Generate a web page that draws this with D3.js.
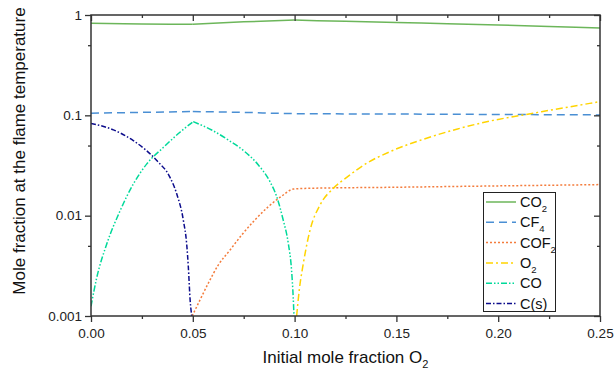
<!DOCTYPE html>
<html>
<head>
<meta charset="utf-8">
<script src="https://cdn.jsdelivr.net/npm/d3@7"></script>
<style>
  body { margin: 0; background: #fff; }
  svg { display: block; font-family: "Liberation Sans", Arial, sans-serif; }
</style>
</head>
<body>
<script>
// tick values
const xTicks = [0, 0.05, 0.10, 0.15, 0.20, 0.25];
const xMinorTicks = [0.025, 0.075, 0.125, 0.175, 0.225];
const yTicks = [0.001, 0.01, 0.1, 1];
const yMinorTicks = [0.005, 0.05, 0.5];
const yTickLabels = ['0.001', '0.01', '0.1', '1'];

// series
const co2X = [0, 0.025, 0.05, 0.075, 0.10, 0.125, 0.15, 0.175, 0.20, 0.225, 0.25];
const co2Y = [0.826, 0.815, 0.807, 0.855, 0.89, 0.865, 0.84, 0.82, 0.795, 0.768, 0.742];

const cf4X = [0, 0.025, 0.05, 0.075, 0.10, 0.15, 0.20, 0.25];
const cf4Y = [0.105, 0.107, 0.109, 0.107, 0.104, 0.103, 0.102, 0.101];

const cof2X = [0.0497, 0.0535, 0.0576, 0.0625, 0.0683, 0.074, 0.0805, 0.0871, 0.0937, 0.0994, 0.105, 0.15, 0.20, 0.25];
const cof2Y = [0.001, 0.00144, 0.00212, 0.00322, 0.00455, 0.00641, 0.00906, 0.0123, 0.0157, 0.0184, 0.0187, 0.0192, 0.0198, 0.0204];

const o2X = [0.101, 0.1023, 0.1043, 0.1076, 0.1125, 0.119, 0.1256, 0.1354, 0.1469, 0.1632, 0.1796, 0.196, 0.21, 0.225, 0.25];
const o2Y = [0.001, 0.00182, 0.00335, 0.0072, 0.0128, 0.0187, 0.0241, 0.0333, 0.0435, 0.0577, 0.0727, 0.0878, 0.099, 0.112, 0.137];

const coX = [0, 0.0028, 0.0077, 0.0143, 0.0208, 0.0274, 0.0356, 0.0437, 0.0502, 0.0593, 0.0674, 0.0756, 0.0822, 0.0879, 0.0912, 0.0944, 0.0969, 0.0985, 0.0993, 0.0997];
const coY = [0.00125, 0.0024, 0.0052, 0.0112, 0.0207, 0.0328, 0.048, 0.0679, 0.0865, 0.0714, 0.0568, 0.0434, 0.032, 0.0218, 0.0155, 0.00905, 0.0053, 0.00287, 0.00156, 0.001];

const csX = [0, 0.011, 0.0208, 0.0323, 0.0388, 0.0421, 0.0454, 0.047, 0.0478, 0.0487, 0.0495];
const csY = [0.083, 0.0717, 0.056, 0.0354, 0.0241, 0.0165, 0.0089, 0.0052, 0.0031, 0.00143, 0.001];

const seriesNames = [['CO', '2'], ['CF', '4'], ['COF', '2'], ['O', '2'], ['CO', ''], ['C(s)', '']];
const seriesX = [co2X, cf4X, cof2X, o2X, coX, csX];
const seriesY = [co2Y, cf4Y, cof2Y, o2Y, coY, csY];

// styles
const colors = ['#6cb65a', '#4a8fd4', '#f47c3c', '#ffd400', '#00d99a', '#0c0c8c'];
const dashes = [null, '8,5', '2,2', '7,3,2,3', '6,2,1.5,2,1.5,2', '5,2,1.5,2'];

const width = 615, height = 369;
const plotLeft = 91, plotRight = 600, plotTop = 15, plotBottom = 316;
const axisColor = '#333';

const svg = d3.select('body').append('svg')
  .attr('width', width)
  .attr('height', height);

const x = d3.scaleLinear().domain([0, 0.25]).range([plotLeft, plotRight]);
const y = d3.scaleLog().domain([0.001, 1]).range([plotBottom, plotTop]);

svg.append('clipPath').attr('id', 'plot')
  .append('rect')
  .attr('x', plotLeft).attr('y', plotTop)
  .attr('width', plotRight - plotLeft).attr('height', plotBottom - plotTop);

// curves, split at local extrema so the peaks stay sharp
const line = d3.line()
  .x(d => x(d[0]))
  .y(d => y(d[1]))
  .curve(d3.curveMonotoneX);

function segments(xs, ys) {
  const pts = xs.map((v, i) => [v, ys[i]]);
  const out = [];
  let start = 0;
  for (let i = 1; i < pts.length - 1; i++) {
    const a = ys[i] - ys[i - 1], b = ys[i + 1] - ys[i];
    if (a * b < 0) {
      out.push(pts.slice(start, i + 1));
      start = i;
    }
  }
  out.push(pts.slice(start));
  return out;
}

const curves = svg.append('g').attr('clip-path', 'url(#plot)');
seriesX.forEach((xs, i) => {
  curves.append('g')
    .selectAll('path')
    .data(segments(xs, seriesY[i]))
    .enter()
    .append('path')
    .attr('d', line)
    .attr('fill', 'none')
    .attr('stroke', colors[i])
    .attr('stroke-width', 1.5)
    .attr('stroke-dasharray', dashes[i]);
});

function styleAxis(g) {
  g.select('.domain').remove();
  g.selectAll('line').attr('stroke', axisColor).attr('stroke-width', 1.3);
  g.selectAll('text')
    .attr('fill', '#222')
    .style('font-size', '13.5px')
    .style('font-family', '"Liberation Sans", Arial, sans-serif');
}

// bottom and left: outward ticks with labels
svg.append('g')
  .attr('transform', 'translate(0,' + plotBottom + ')')
  .call(d3.axisBottom(x).tickValues(xTicks).tickSize(6).tickPadding(6).tickFormat(d3.format('.2f')))
  .call(styleAxis);
svg.append('g')
  .attr('transform', 'translate(0,' + plotBottom + ')')
  .call(d3.axisBottom(x).tickValues(xMinorTicks).tickSize(3).tickFormat(''))
  .call(styleAxis);
svg.append('g')
  .attr('transform', 'translate(' + plotLeft + ',0)')
  .call(d3.axisLeft(y).tickValues(yTicks).tickSize(6).tickPadding(3)
    .tickFormat(d => yTickLabels[yTicks.indexOf(d)]))
  .call(styleAxis);
svg.append('g')
  .attr('transform', 'translate(' + plotLeft + ',0)')
  .call(d3.axisLeft(y).tickValues(yMinorTicks).tickSize(3).tickFormat(''))
  .call(styleAxis);

// top and right: inward ticks, no labels
svg.append('g')
  .attr('transform', 'translate(0,' + plotTop + ')')
  .call(d3.axisBottom(x).tickValues(xTicks).tickSize(6).tickFormat(''))
  .call(styleAxis);
svg.append('g')
  .attr('transform', 'translate(0,' + plotTop + ')')
  .call(d3.axisBottom(x).tickValues(xMinorTicks).tickSize(3).tickFormat(''))
  .call(styleAxis);
svg.append('g')
  .attr('transform', 'translate(' + plotRight + ',0)')
  .call(d3.axisLeft(y).tickValues(yTicks).tickSize(6).tickFormat(''))
  .call(styleAxis);
svg.append('g')
  .attr('transform', 'translate(' + plotRight + ',0)')
  .call(d3.axisLeft(y).tickValues(yMinorTicks).tickSize(3).tickFormat(''))
  .call(styleAxis);

// frame
svg.append('rect')
  .attr('x', plotLeft).attr('y', plotTop)
  .attr('width', plotRight - plotLeft).attr('height', plotBottom - plotTop)
  .attr('fill', 'none')
  .attr('stroke', axisColor)
  .attr('stroke-width', 1.5);

// axis titles
const xTitle = svg.append('text')
  .attr('x', (plotLeft + plotRight) / 2)
  .attr('y', 363)
  .attr('text-anchor', 'middle')
  .attr('fill', '#111')
  .style('font-size', '17px');
xTitle.append('tspan').text('Initial mole fraction O');
xTitle.append('tspan').attr('dy', 5).style('font-size', '11px').text('2');

svg.append('text')
  .attr('transform', 'translate(25,151) rotate(-90)')
  .attr('text-anchor', 'middle')
  .attr('fill', '#111')
  .style('font-size', '17px')
  .text('Mole fraction at the flame temperature');

// legend
const legend = svg.append('g');
legend.append('rect')
  .attr('x', 483.5).attr('y', 192.5)
  .attr('width', 72).attr('height', 119)
  .attr('fill', '#fff')
  .attr('stroke', '#222')
  .attr('stroke-width', 1);

seriesNames.forEach((nm, i) => {
  const ly = 202 + i * 20.3;
  legend.append('line')
    .attr('x1', 486).attr('x2', 516)
    .attr('y1', ly).attr('y2', ly)
    .attr('stroke', colors[i])
    .attr('stroke-width', 1.5)
    .attr('stroke-dasharray', dashes[i]);
  const t = legend.append('text')
    .attr('x', 520)
    .attr('y', ly + 5)
    .attr('fill', '#111')
    .style('font-size', '14.5px');
  t.append('tspan').text(nm[0]);
  if (nm[1]) t.append('tspan').attr('dy', 5).style('font-size', '9.5px').text(nm[1]);
});
</script>
</body>
</html>
